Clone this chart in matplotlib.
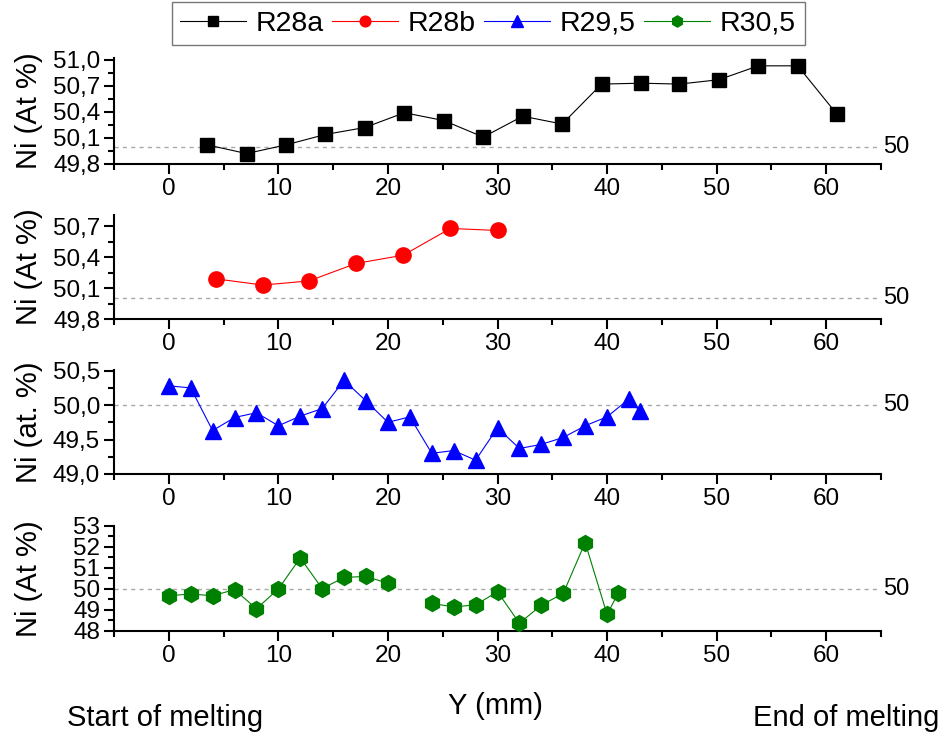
import numpy as np
import matplotlib
matplotlib.use('Agg')
import matplotlib.pyplot as plt
from matplotlib.ticker import MultipleLocator, FuncFormatter
import matplotlib.transforms as mtransforms

plt.rcParams['font.family'] = ['Liberation Sans', 'DejaVu Sans']

# Ni content along the sample for each run
y_r28a = [3.5, 7.1, 10.7, 14.3, 17.9, 21.5, 25.1, 28.7, 32.3, 35.9, 39.5, 43.1, 46.6, 50.2, 53.8, 57.4, 61.0]
ni_r28a = [50.02, 49.92, 50.02, 50.14, 50.22, 50.39, 50.30, 50.11, 50.35, 50.26,
           50.72, 50.73, 50.72, 50.77, 50.93, 50.93, 50.37]

y_r28b = [4.3, 8.6, 12.8, 17.1, 21.4, 25.7, 30.0]
ni_r28b = [50.19, 50.13, 50.17, 50.34, 50.42, 50.68, 50.66]

y_r295 = [0, 2, 4, 6, 8, 10, 12, 14, 16, 18, 20, 22, 24, 26, 28, 30, 32, 34, 36, 38, 40, 42, 43]
ni_r295 = [50.28, 50.25, 49.63, 49.82, 49.89, 49.70, 49.84, 49.95, 50.36, 50.06, 49.75, 49.83,
           49.30, 49.34, 49.20, 49.67, 49.37, 49.43, 49.53, 49.70, 49.83, 50.09, 49.91]

# no measurement at 22 mm -> gap in the line
y_r305 = [0, 2, 4, 6, 8, 10, 12, 14, 16, 18, 20, 22, 24, 26, 28, 30, 32, 34, 36, 38, 40, 41]
ni_r305 = [49.68, 49.76, 49.68, 49.97, 49.06, 50.00, 51.48, 50.02, 50.55, 50.60, 50.27, np.nan,
           49.31, 49.15, 49.24, 49.87, 48.37, 49.23, 49.79, 52.21, 48.79, 49.79]

series = [
    ('R28a', y_r28a, ni_r28a, 'black', 's', 9.5),
    ('R28b', y_r28b, ni_r28b, 'red', 'o', 11),
    ('R29,5', y_r295, ni_r295, 'blue', '^', 11.5),
    ('R30,5', y_r305, ni_r305, 'green', 'h', 11.5),
]
ylims = [(49.8, 51.02), (49.8, 50.81), (49.0, 50.51), (48.0, 53.0)]
ymajor = [0.3, 0.3, 0.5, 1.0]
ylabels = ['Ni (At %)', 'Ni (At %)', 'Ni (at. %)', 'Ni (At %)']

# axes boxes in figure fractions: (bottom, height)
boxes = [(0.7784, 0.1432), (0.5689, 0.1405), (0.3595, 0.1405), (0.1473, 0.1419)]
left, width = 0.1205, 0.8108

fig = plt.figure(figsize=(9.46, 7.4), dpi=100)
handles = []
for i, (name, x, y, col, mk, ms) in enumerate(series):
    bottom, height = boxes[i]
    ax = fig.add_axes([left, bottom, width, height])
    ax.axhline(50, color='#aaaaaa', linestyle=(0, (3, 3)), linewidth=1.0, zorder=1)
    line, = ax.plot(x, y, color=col, linewidth=0.8, marker=mk, markersize=ms,
                    markeredgecolor=col, markerfacecolor=col, label=name, zorder=3)
    handles.append(line)

    ax.set_xlim(-5, 65)
    ax.set_ylim(*ylims[i])
    ax.xaxis.set_major_locator(MultipleLocator(10))
    ax.xaxis.set_minor_locator(MultipleLocator(5))
    ax.yaxis.set_major_locator(MultipleLocator(ymajor[i]))
    ax.yaxis.set_minor_locator(MultipleLocator(ymajor[i] / 2))
    if i == 3:
        ax.yaxis.set_major_formatter(FuncFormatter(lambda v, p: f'{v:.0f}'))
    else:
        ax.yaxis.set_major_formatter(FuncFormatter(lambda v, p: f'{v:.1f}'.replace('.', ',')))
    ax.set_xticks([0, 10, 20, 30, 40, 50, 60])

    for s in ['top', 'right']:
        ax.spines[s].set_visible(False)
    for s in ['left', 'bottom']:
        ax.spines[s].set_linewidth(1.5)
    ax.tick_params(which='major', direction='out', length=7, width=1.5, labelsize=17.5, pad=3)
    ax.tick_params(which='minor', direction='out', length=4, width=1.5)
    ax.patch.set_alpha(0)

    trans = mtransforms.blended_transform_factory(ax.transAxes, ax.transData)
    ax.text(1.003, 50, '50', transform=trans, ha='left', va='center', fontsize=17)

    fig.text(0.031, bottom + height / 2, ylabels[i], rotation=90, ha='center', va='center', fontsize=21)

leg = fig.legend(handles=handles, loc='upper center', bbox_to_anchor=(0.516, 1.016), ncol=4,
                 fontsize=20.5, frameon=True, fancybox=False, edgecolor='#555555',
                 handlelength=2.3, handletextpad=0.35, columnspacing=0.3,
                 borderpad=0.3, markerscale=0.7)
leg.get_frame().set_linewidth(1.0)

fig.text(0.524, 0.046, 'Y (mm)', ha='center', va='center', fontsize=21)
fig.text(0.174, 0.030, 'Start of melting', ha='center', va='center', fontsize=21)
fig.text(0.894, 0.030, 'End of melting', ha='center', va='center', fontsize=21)

plt.savefig('out.png', dpi=100)
plt.close()
